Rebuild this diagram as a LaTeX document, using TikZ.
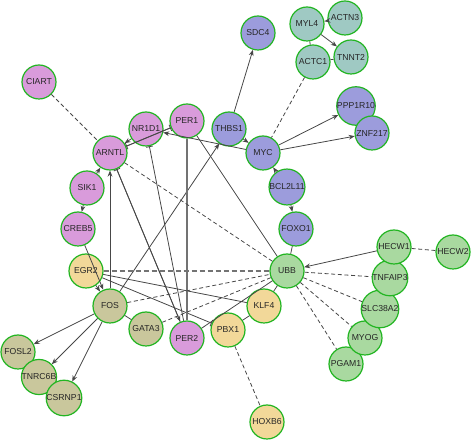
\documentclass[tikz,border=0pt]{standalone}
\usepackage{fontspec}
\setmainfont{Liberation Sans}
\usetikzlibrary{arrows.meta}
\definecolor{ring}{HTML}{22B522}
\definecolor{clockc}{HTML}{D99BDB}
\definecolor{mycc}{HTML}{9C9CDC}
\definecolor{musclec}{HTML}{9FC9C3}
\definecolor{tfc}{HTML}{F2D899}
\definecolor{fosc}{HTML}{C9C79C}
\definecolor{ubbc}{HTML}{A9D9A0}
\tikzset{gene/.style={circle,draw=ring,line width=0.9pt,minimum size=25.5pt,inner sep=0pt,font=\fontsize{6.5}{7}\selectfont,text=black!85},
clock/.style={gene,fill=clockc},mycg/.style={gene,fill=mycc},muscle/.style={gene,fill=musclec},
tf/.style={gene,fill=tfc},fosg/.style={gene,fill=fosc},ubbg/.style={gene,fill=ubbc},
edge/.style={draw=black!72,line width=0.6pt},
act/.style={edge,-{Stealth[length=4.5pt,width=3.6pt]}},
inh/.style={edge,-{Bar[width=5pt]}},
assoc/.style={edge,dash pattern=on 3pt off 2pt}}

\begin{document}
\begin{tikzpicture}[x=0.75pt,y=-0.75pt]
\useasboundingbox (0,0) rectangle (472,441);
\node[clock] (CIART) at (39,82) {CIART};
\node[clock] (NR1D1) at (146,129) {NR1D1};
\node[clock] (PER1) at (187,121) {PER1};
\node[clock] (ARNTL) at (110,153) {ARNTL};
\node[clock] (SIK1) at (87,188) {SIK1};
\node[clock] (CREB5) at (78,229) {CREB5};
\node[clock] (PER2) at (187,338) {PER2};
\node[mycg] (SDC4) at (258,33) {SDC4};
\node[mycg] (THBS1) at (229,129) {THBS1};
\node[mycg] (MYC) at (263,153) {MYC};
\node[mycg] (PPP1R10) at (356,106) {PPP1R10};
\node[mycg] (ZNF217) at (372,133) {ZNF217};
\node[mycg] (BCL2L11) at (287,187) {BCL2L11};
\node[mycg] (FOXO1) at (296,229) {FOXO1};
\node[muscle] (MYL4) at (307,24) {MYL4};
\node[muscle] (ACTN3) at (345,18) {ACTN3};
\node[muscle] (ACTC1) at (313,62) {ACTC1};
\node[muscle] (TNNT2) at (351,57) {TNNT2};
\node[tf] (EGR2) at (86,271) {EGR2};
\node[tf] (KLF4) at (264,306) {KLF4};
\node[tf] (PBX1) at (228,330) {PBX1};
\node[tf] (HOXB6) at (267,422) {HOXB6};
\node[fosg] (FOS) at (110,306) {FOS};
\node[fosg] (GATA3) at (146,329) {GATA3};
\node[fosg] (FOSL2) at (18,352) {FOSL2};
\node[fosg] (TNRC6B) at (39,377) {TNRC6B};
\node[fosg] (CSRNP1) at (64,398) {CSRNP1};
\node[ubbg] (UBB) at (287,271) {UBB};
\node[ubbg] (HECW2) at (453,252) {HECW2};
\node[ubbg] (PGAM1) at (346,364) {PGAM1};
\node[ubbg] (MYOG) at (365,338) {MYOG};
\node[ubbg] (SLC38A2) at (380,309) {SLC38A2};
\node[ubbg] (TNFAIP3) at (390,278) {TNFAIP3};
\node[ubbg] (HECW1) at (394,247) {HECW1};

\draw[act] (SIK1) -- (ARNTL);
\draw[act] (SIK1) -- (CREB5);
\draw[act] (CREB5) -- (FOS);
\draw[act] (EGR2) -- (FOS);
\draw[act] (FOS) -- (ARNTL);
\draw[act] (FOS) -- (THBS1);
\draw[act] (FOS) -- (FOSL2);
\draw[act] (FOS) -- (TNRC6B);
\draw[act] (FOS) -- (CSRNP1);
\draw[act] (ARNTL) -- (PER2);
\draw[act] (NR1D1) -- (ARNTL);
\draw[act] (MYC) -- (NR1D1);
\draw[act] (THBS1) -- (SDC4);
\draw[act] (THBS1) -- (MYC);
\draw[act] (MYC) -- (PPP1R10);
\draw[act] (MYC) -- (ZNF217);
\draw[act] (BCL2L11) -- (MYC);
\draw[act] (BCL2L11) -- (FOXO1);
\draw[act] (ACTN3) -- (MYL4);
\draw[act] (MYL4) -- (TNNT2);
\draw[act] (HECW1) -- (UBB);
\draw[inh] (PER2) -- (ARNTL);
\draw[inh] (PER2) -- (NR1D1);
\draw[inh] (EGR2) -- (PBX1);
\draw[inh] (ARNTL) -- (PER1);
\draw[inh] (PER1) -- (ARNTL);
\draw[edge] (FOXO1) -- (UBB) (MYL4) -- (ACTC1) (ACTC1) -- (TNNT2)
  (FOS) -- (GATA3) (PER1) -- (UBB) (PER2) -- (UBB)
  (EGR2) -- (KLF4) (KLF4) -- (UBB) (PBX1) -- (KLF4);
\draw[edge,line width=1pt,draw=black!55] (PER1) -- (PER2);
\draw[assoc] (CIART) -- (ARNTL) (ARNTL) -- (UBB) (ACTC1) -- (MYC)
  (FOS) -- (UBB) (GATA3) -- (UBB) (PBX1) -- (HOXB6) (HECW1) -- (HECW2);
\foreach \g in {TNFAIP3,SLC38A2,MYOG,PGAM1}
  \draw[assoc] (UBB) -- (\g);
\draw[assoc,line width=1.1pt,draw=black!55,dash pattern=on 4pt off 2pt] (EGR2) -- (UBB);
\end{tikzpicture}
\end{document}
